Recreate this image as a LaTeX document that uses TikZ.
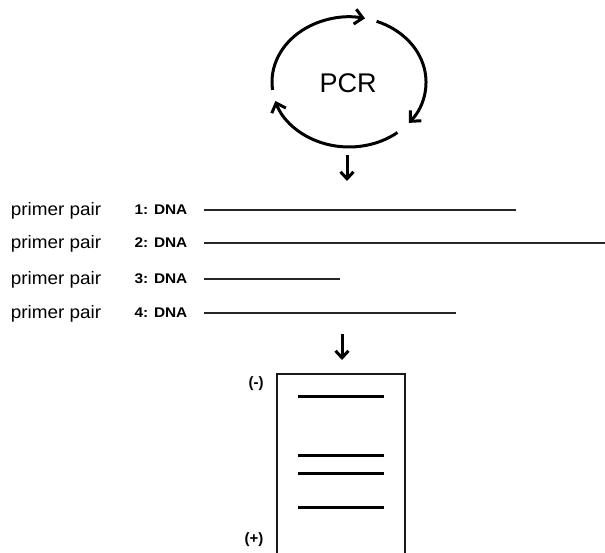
\documentclass[tikz,border=0pt]{standalone}
\usepackage{fontspec}
\setmainfont{Liberation Sans}
\usetikzlibrary{arrows.meta}
\begin{document}
\begin{tikzpicture}[x=1pt,y=-1pt,
  cyc/.style={line width=3pt,-{Straight Barb[length=8pt,width=15pt,line width=3pt]}},
  down/.style={line width=3pt,-{Straight Barb[length=7pt,width=13pt,line width=3pt]}},
  dna/.style={line width=2.4pt,draw=black!85},
  band/.style={line width=3pt},
  gel/.style={draw=black!90,line width=2.7pt,line join=miter},
  primer/.style={font=\fontsize{18}{20}\selectfont,inner sep=0pt},
  lbl/.style={font=\fontsize{14}{16}\selectfont\bfseries,inner sep=0pt},
  pole/.style={font=\fontsize{15}{17}\selectfont\bfseries,inner sep=0pt}]
\useasboundingbox (0,0) rectangle (605,553);
% PCR cycle
\coordinate (cc) at (349,82);
\node[font=\fontsize{27}{29}\selectfont,inner sep=0pt] (pcr) at (348,83) {PCR};
\draw[cyc] (cc) ++(173:77 and 65) arc[start angle=173,end angle=282,x radius=77,y radius=65];
\draw[cyc] (cc) ++(291:77 and 65) arc[start angle=291,end angle=399,x radius=77,y radius=65];
\draw[cyc] (cc) ++(51:77 and 65) arc[start angle=51,end angle=163,x radius=77,y radius=65];
\coordinate (a1s) at (347,155);
\coordinate (a1e) at (347,181);
\draw[down] (a1s) -- (a1e);
% primer pairs and DNA
\foreach \i/\y/\xe in {1/210/516,2/243/605,3/279/340,4/313/456}{
  \node[primer] (p\i) at (56,\y+1) {\scalebox{1.05}[1]{primer pair}};
  \node[lbl] (d\i) at (161,\y) {\scalebox{1.1}[1]{\i: DNA}};
  \coordinate (s\i) at (204,\y);
  \coordinate (e\i) at (\xe,\y);
  \draw[dna] (s\i) -- (e\i);
}
\coordinate (a2s) at (342,334);
\coordinate (a2e) at (342,360);
\draw[down] (a2s) -- (a2e);
% gel
\coordinate (g1) at (277,556);
\coordinate (g2) at (277,374);
\coordinate (g3) at (405,374);
\coordinate (g4) at (405,556);
\draw[gel] (g1) -- (g2) -- (g3) -- (g4);
\node[pole] (minus) at (256,384) {(-)};
\node[pole] (plus) at (254,540) {(+)};
\foreach \y [count=\k] in {396,455,473,507}{
  \coordinate (b\k l) at (298,\y);
  \coordinate (b\k r) at (384,\y);
  \draw[band] (b\k l) -- (b\k r);
}
\end{tikzpicture}
\end{document}
